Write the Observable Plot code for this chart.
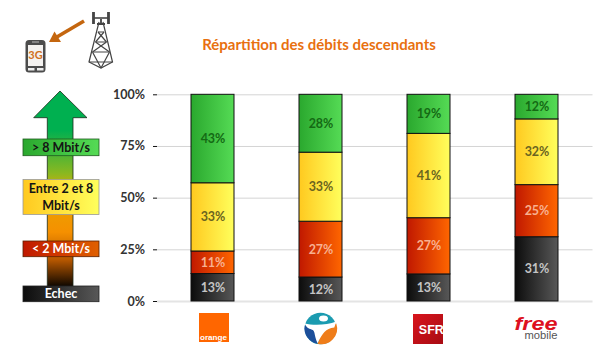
<!DOCTYPE html>
<html><head><meta charset="utf-8">
<script src="https://cdn.jsdelivr.net/npm/d3@7"></script>
<script src="https://cdn.jsdelivr.net/npm/@observablehq/plot@0.6"></script>
<style>html,body{margin:0;padding:0;background:#fff}svg{display:block}</style>
</head><body><div id="chart"></div>
<script>
const operators = ["Orange", "Bouygues", "SFR", "Free"];
const levels = ["Echec", "< 2 Mbit/s", "Entre 2 et 8 Mbit/s", "> 8 Mbit/s"];
const echec = [13.3, 11.6, 13.1, 31.1];
const moins2 = [10.9, 27, 27.2, 25.2];
const entre2et8 = [33, 33.4, 40.8, 31.8];
const plus8 = [42.8, 28, 18.9, 11.9];
const labels = [
  ["13%", "12%", "13%", "31%"],
  ["11%", "27%", "27%", "25%"],
  ["33%", "33%", "41%", "32%"],
  ["43%", "28%", "19%", "12%"]
];
const yTicks = [0, 25, 50, 75, 100];
const series = [echec, moins2, entre2et8, plus8];
const rows = levels.flatMap((level, i) => operators.map((op, j) => ({op, level, value: series[i][j], label: labels[i][j]})));

const FONT = "Lato, 'Open Sans', sans-serif";
const gradients = {
  gBlack: ["#0c0c0c", "#585858"], gRed: ["#c01800", "#ff6600"],
  gYellow: ["#ffc91f", "#ffff5c"], gGreen: ["#2aa82e", "#55db55"]
};
const textColor = {"Echec": "#c4c4c4", "< 2 Mbit/s": "#f8b090", "Entre 2 et 8 Mbit/s": "#6a6420", "> 8 Mbit/s": "#146a14"};

function defsMark() {
  const g = d3.create("svg:g");
  const defs = g.append("defs");
  for (const [id, [a, b]] of Object.entries(gradients)) {
    const lg = defs.append("linearGradient").attr("id", id);
    lg.append("stop").attr("offset", "0%").attr("stop-color", a);
    lg.append("stop").attr("offset", "100%").attr("stop-color", b);
  }
  const ag = defs.append("linearGradient").attr("id", "gArrow").attr("x1", 0).attr("x2", 0).attr("y1", 0).attr("y2", 1);
  [[0.2, "#00b050"], [0.42, "#8ab820"], [0.52, "#e8a800"], [0.72, "#f59000"], [0.86, "#b85800"], [1, "#0a0500"]]
    .forEach(([o, c]) => ag.append("stop").attr("offset", o).attr("stop-color", c));
  const rg = defs.append("linearGradient").attr("id", "gLegendRed");
  rg.append("stop").attr("offset", "0%").attr("stop-color", "#c01800");
  rg.append("stop").attr("offset", "100%").attr("stop-color", "#e06000");
  const sg = defs.append("linearGradient").attr("id", "gSfr").attr("x1", 0).attr("x2", 1).attr("y1", 0).attr("y2", 1);
  sg.append("stop").attr("offset", "0%").attr("stop-color", "#d8141c");
  sg.append("stop").attr("offset", "100%").attr("stop-color", "#a80c14");
  return g.node();
}

function decoMark() {
  const g = d3.create("svg:g").attr("font-family", FONT);
  // title
  g.append("text").attr("x", 319).attr("y", 50).attr("text-anchor", "middle")
    .attr("font-size", 15).attr("font-weight", 700).attr("fill", "#e8700f").text("Répartition des débits descendants");
  // big arrow
  g.append("path").attr("d", "M60,91 L87,117.7 L73,117.7 L73,287 L47.3,287 L47.3,117.7 L33.7,117.7 Z")
    .attr("fill", "url(#gArrow)").attr("stroke", "#1a2a1a").attr("stroke-width", 0.8);
  // legend boxes
  const boxes = [
    {y: 139, h: 16.7, f: "url(#gGreen)", s: "#1f5a1f", c: "#141414", t: ["> 8 Mbit/s"]},
    {y: 179.5, h: 35, f: "url(#gYellow)", s: "#999", c: "#141414", t: ["Entre 2 et 8", "Mbit/s"]},
    {y: 241, h: 15.7, f: "url(#gLegendRed)", s: "#5a2000", c: "#fff", t: ["< 2 Mbit/s"]},
    {y: 286, h: 15.7, f: "url(#gBlack)", s: "#222", c: "#fff", t: ["Echec"]}
  ];
  for (const b of boxes) {
    g.append("rect").attr("x", 23).attr("y", b.y).attr("width", 76).attr("height", b.h)
      .attr("fill", b.f).attr("stroke", b.s).attr("stroke-width", 0.8);
    b.t.forEach((line, i) => g.append("text").attr("x", 61)
      .attr("y", b.y + b.h / 2 + 4.6 + (i - (b.t.length - 1) / 2) * 16.5)
      .attr("text-anchor", "middle").attr("font-size", 12.5).attr("font-weight", 700).attr("fill", b.c).text(line));
  }
  // phone
  g.append("rect").attr("x", 25.5).attr("y", 40).attr("width", 20).attr("height", 32.5).attr("rx", 3.5).attr("fill", "#4c4c4c");
  g.append("rect").attr("x", 28).attr("y", 45).attr("width", 15).attr("height", 21).attr("fill", "#f4f2f0");
  g.append("rect").attr("x", 32).attr("y", 41.5).attr("width", 7).attr("height", 1).attr("fill", "#bbb");
  g.append("rect").attr("x", 28).attr("y", 68).attr("width", 6.5).attr("height", 2.5).attr("fill", "#eee");
  g.append("rect").attr("x", 37).attr("y", 68).attr("width", 6.5).attr("height", 2.5).attr("fill", "#eee");
  g.append("text").attr("x", 35.5).attr("y", 59).attr("text-anchor", "middle").attr("font-size", 11)
    .attr("font-weight", 700).attr("fill", "#d0701c").text("3G");
  // signal arrow
  g.append("path").attr("d", "M84,21 L56,37.5").attr("stroke", "#c4660f").attr("stroke-width", 3.6).attr("fill", "none");
  g.append("path").attr("d", "M49,42 L54.5,31.5 L61,42 Z").attr("fill", "#c4660f");
  // tower
  const tower = g.append("g").attr("fill", "none").attr("stroke", "#444").attr("stroke-width", 1.2);
  tower.append("path").attr("d", "M93.5,12 V24 M108.5,12 V24").attr("stroke-width", 2.8);
  tower.append("path").attr("d", "M93.5,18 H108.5").attr("stroke-width", 1.6);
  tower.append("path").attr("d", "M101,19 V24 M97,24 H105").attr("stroke-width", 1.8);
  tower.append("path").attr("d", "M99,22 L89,62 L101,68 L112.5,62 L103,22");
  tower.append("path").attr("d", "M98,32 H104 M95.5,42 H106.5 M92.5,52 H109.5 M89,62 H112.5");
  tower.append("path").attr("d", "M98,32 L106.5,42 M104,32 L95.5,42 M95.5,42 L109.5,52 M106.5,42 L92.5,52 M92.5,52 L101,68 M109.5,52 L101,68");
  return g.node();
}

function logosMark(index, {x}) {
  const g = d3.create("svg:g").attr("font-family", FONT);
  const cx = op => x(op) + x.bandwidth() / 2;
  // Orange
  let c = cx("Orange");
  g.append("rect").attr("x", c - 13.5).attr("y", 313).attr("width", 30).attr("height", 29).attr("fill", "#ff6600");
  g.append("text").attr("x", c - 12.5).attr("y", 339.5).attr("text-anchor", "start").attr("font-family", "'Liberation Sans', sans-serif")
    .attr("font-size", 7.5).attr("font-weight", 700).attr("fill", "#fff").attr("textLength", 27).attr("lengthAdjust", "spacingAndGlyphs").text("orange");
  // Bouygues
  c = cx("Bouygues"); const cy = 328.5; const r = 15.8;
  g.append("circle").attr("cx", c).attr("cy", cy).attr("r", r).attr("fill", "#1b9bb0");
  g.append("path").attr("d", `M${c-r},${cy-3} L${c-3},${cy} L${c-3},${cy+r-0.5} A${r},${r} 0 0 1 ${c-r},${cy-3} Z`).attr("fill", "#1c4f9a");
  g.append("path").attr("d", `M${c-3},${cy+r-0.5} L${c+2},${cy+2} L${c+r},${cy-5} A${r},${r} 0 0 1 ${c-3},${cy+r-0.5} Z`).attr("fill", "#ef7d1a");
  g.append("path").attr("d", `M${c-r},${cy-5} C${c-8},${cy-3} ${c+6},${cy-3} ${c+r},${cy-7} L${c+r-2},${cy-1} C${c+5},${cy} ${c+2},${cy+5} ${c-3},${cy+r-1} C${c-7},${cy+5} ${c-5},${cy+2} ${c-9},${cy+1} C${c-12},${cy} ${c-14},${cy-1} ${c-r},${cy-5} Z`).attr("fill", "#fff");
  g.append("ellipse").attr("cx", c + 3).attr("cy", cy - 10).attr("rx", 4.5).attr("ry", 3).attr("fill", "#fff");
  // SFR
  c = cx("SFR");
  g.append("rect").attr("x", c - 15.5).attr("y", 314).attr("width", 30).attr("height", 30).attr("fill", "url(#gSfr)");
  g.append("text").attr("x", c + 2.8).attr("y", 333.5).attr("text-anchor", "middle").attr("font-family", "'Liberation Sans', sans-serif")
    .attr("font-size", 12.5).attr("font-weight", 700).attr("fill", "#fff").text("SFR");
  // Free mobile
  c = cx("Free");
  g.append("text").attr("x", c - 22).attr("y", 330).attr("text-anchor", "start").attr("font-family", "'Liberation Sans', sans-serif")
    .attr("font-size", 18).attr("font-weight", 700).attr("font-style", "italic").attr("fill", "#dd1020")
    .attr("textLength", 43).attr("lengthAdjust", "spacingAndGlyphs").text("free");
  g.append("text").attr("x", c - 12).attr("y", 338.5).attr("text-anchor", "start").attr("font-family", "'Liberation Sans', sans-serif")
    .attr("font-size", 10).attr("fill", "#555").attr("textLength", 33).attr("lengthAdjust", "spacingAndGlyphs").text("mobile");
  return g.node();
}

const plot = Plot.plot({
  width: 612, height: 355,
  marginLeft: 157, marginRight: 19.5, marginTop: 94.3, marginBottom: 54,
  style: {background: "#fff", fontFamily: FONT},
  x: {domain: operators, paddingInner: 0.6, paddingOuter: 0.3, axis: null},
  y: {domain: [0, 100], axis: null},
  color: {domain: levels, range: ["url(#gBlack)", "url(#gRed)", "url(#gYellow)", "url(#gGreen)"]},
  marks: [
    defsMark,
    Plot.ruleY(yTicks.filter(d => d > 0), {stroke: "#d4d4d4", strokeWidth: 1}),
    Plot.ruleY([0], {stroke: "#e4e4e4", strokeWidth: 2}),
    Plot.axisY({ticks: yTicks, tickFormat: d => d + "%", tickSize: 4, tickPadding: 8.5, fontSize: 12.5, fontWeight: 700, color: "#333", label: null, stroke: "#111"}),
    Plot.ruleX([0], {x: () => 0, stroke: "#111", strokeWidth: 1}),
    Plot.barY(rows, {x: "op", y: "value", z: "level", fill: "level", stroke: "#111", strokeWidth: 1}),
    Plot.text(rows, Plot.stackY({x: "op", y: "value", z: "level", text: "label", fontSize: 12.5, fontWeight: 700, fill: d => textColor[d.level]})),
    decoMark,
    logosMark
  ]
});
document.getElementById("chart").appendChild(plot);
</script></body></html>
